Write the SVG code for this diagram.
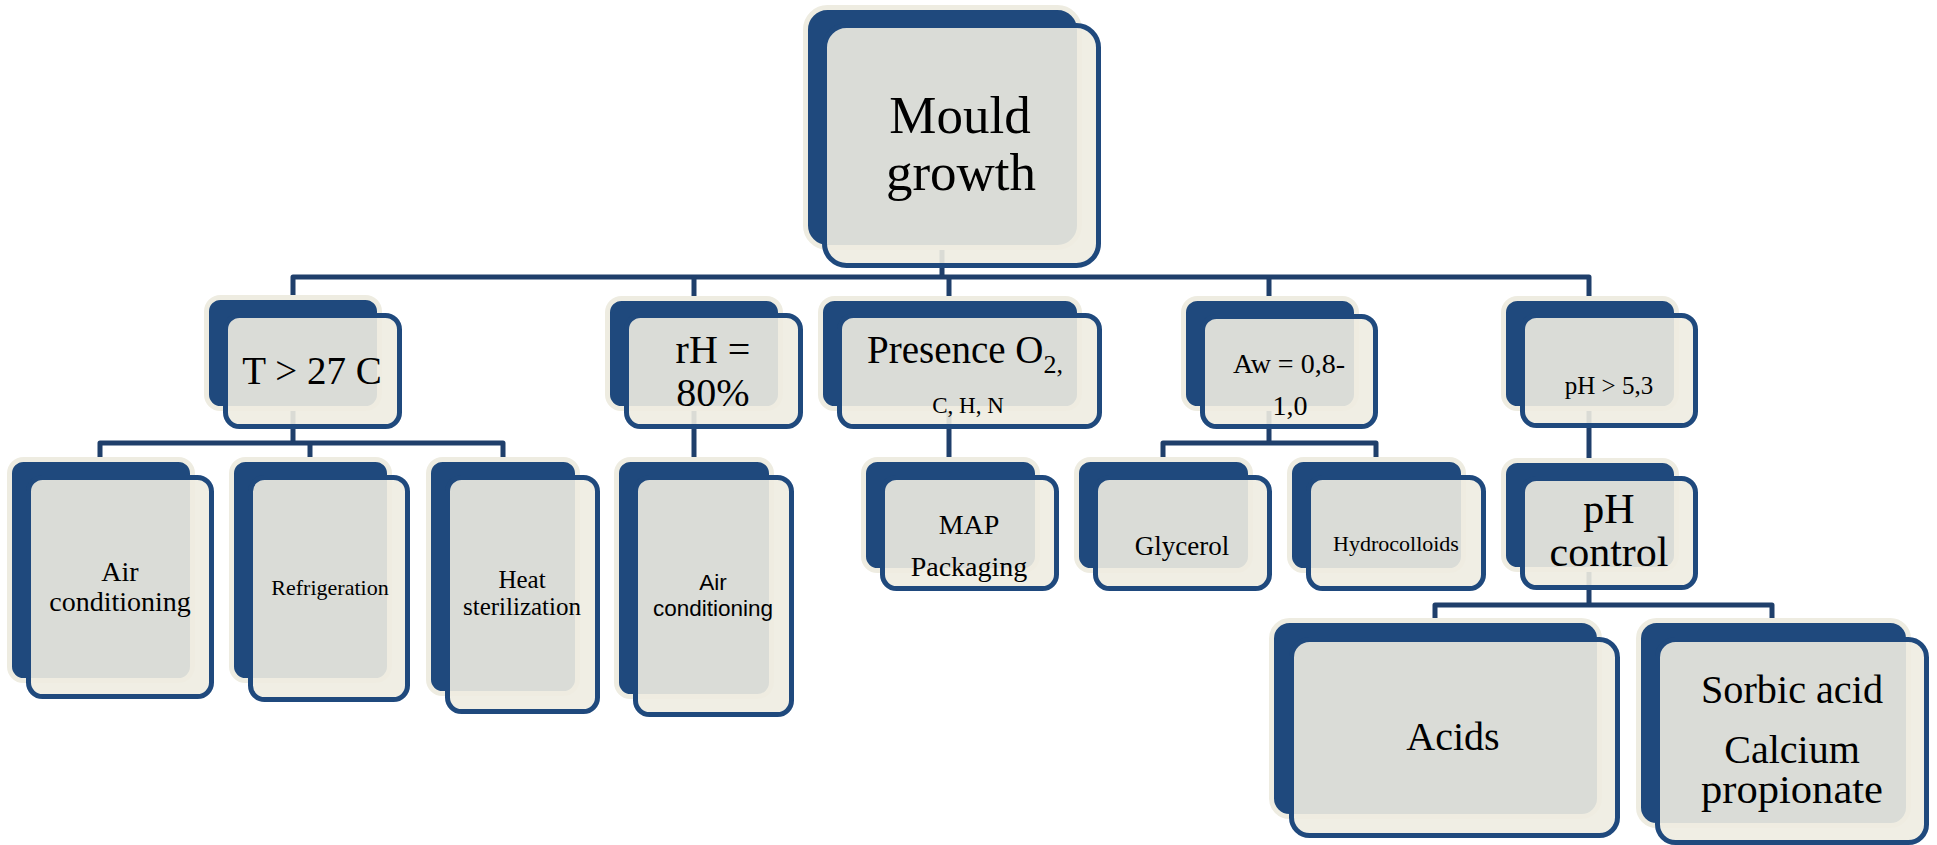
<svg xmlns="http://www.w3.org/2000/svg" width="1937" height="845" viewBox="0 0 1937 845">
<style>
.back{fill:#1F497D;stroke:#EEECE1;stroke-width:5}
.front{fill:#EEECE1;fill-opacity:0.9;stroke:#1F497D;stroke-width:5}
.conn{stroke:#1F3F6B;stroke-width:5;fill:none;stroke-linejoin:round}
.t{font-family:"Liberation Serif","Times New Roman",serif;fill:#000;text-anchor:middle}
.s{font-family:"Liberation Sans",Arial,sans-serif;fill:#000;text-anchor:middle}
</style>
<rect width="1937" height="845" fill="#FFFFFF"/>
<g id="connectors">
<path class="conn" d="M942,200 V277"/>
<path class="conn" d="M293,300 V277 H1589 V300"/>
<path class="conn" d="M694,277 V300"/>
<path class="conn" d="M949,277 V300"/>
<path class="conn" d="M1269,277 V300"/>
<path class="conn" d="M293,380 V443"/>
<path class="conn" d="M100,462 V443 H503 V462"/>
<path class="conn" d="M310,443 V462"/>
<path class="conn" d="M694,380 V462"/>
<path class="conn" d="M949,380 V462"/>
<path class="conn" d="M1269,380 V443"/>
<path class="conn" d="M1163,462 V443 H1376 V462"/>
<path class="conn" d="M1589,380 V463"/>
<path class="conn" d="M1589,540 V605"/>
<path class="conn" d="M1435,623 V605 H1772 V623"/>
</g>
<g id="node-mould">
<rect class="back" x="805.5" y="7.5" width="274" height="240" rx="22"/>
<rect class="front" x="824.5" y="25.5" width="274" height="240" rx="22"/>
<text class="t" font-size="53" x="960" y="133">Mould</text>
<text class="t" font-size="53" x="961" y="190">growth</text>
</g>
<g id="node-temp">
<rect class="back" x="206.5" y="297.5" width="173" height="111" rx="14"/>
<rect class="front" x="225.5" y="315.5" width="174" height="111" rx="14"/>
<text class="t" font-size="39" x="312" y="384">T &gt; 27 C</text>
</g>
<g id="node-rh">
<rect class="back" x="607.5" y="298.5" width="173" height="110" rx="14"/>
<rect class="front" x="626.5" y="315.5" width="174" height="111" rx="14"/>
<text class="t" font-size="40" x="713" y="363">rH =</text>
<text class="t" font-size="40" x="713" y="406">80%</text>
</g>
<g id="node-o2">
<rect class="back" x="820.5" y="298.5" width="259" height="110" rx="14"/>
<rect class="front" x="839.5" y="315.5" width="260" height="111" rx="14"/>
<text class="t" font-size="39" x="867" y="363" style="text-anchor:start">Presence O<tspan font-size="26" dy="10">2,</tspan></text>
<text class="t" font-size="23" x="968" y="413">C, H, N</text>
</g>
<g id="node-aw">
<rect class="back" x="1183.5" y="298.5" width="173" height="110" rx="14"/>
<rect class="front" x="1202.5" y="316.5" width="173" height="110" rx="14"/>
<text class="t" font-size="28" x="1289" y="373">Aw = 0,8-</text>
<text class="t" font-size="28" x="1290" y="415">1,0</text>
</g>
<g id="node-ph">
<rect class="back" x="1503.5" y="298.5" width="173" height="110" rx="14"/>
<rect class="front" x="1522.5" y="315.5" width="173" height="110" rx="14"/>
<text class="t" font-size="25" x="1609" y="394">pH &gt; 5,3</text>
</g>
<g id="node-air1">
<rect class="back" x="9.5" y="459.5" width="183" height="221" rx="14"/>
<rect class="front" x="28.5" y="477.5" width="183" height="219" rx="14"/>
<text class="t" font-size="28" x="120" y="581">Air</text>
<text class="t" font-size="28" x="120" y="611">conditioning</text>
</g>
<g id="node-refrig">
<rect class="back" x="231.5" y="459.5" width="158" height="221" rx="14"/>
<rect class="front" x="250.5" y="477.5" width="157" height="222" rx="14"/>
<text class="t" font-size="22" x="330" y="595">Refrigeration</text>
</g>
<g id="node-heat">
<rect class="back" x="428.5" y="459.5" width="149" height="234" rx="14"/>
<rect class="front" x="447.5" y="477.5" width="150" height="234" rx="14"/>
<text class="t" font-size="25" x="522" y="588">Heat</text>
<text class="t" font-size="25" x="522" y="615">sterilization</text>
</g>
<g id="node-air2">
<rect class="back" x="616.5" y="459.5" width="155" height="237" rx="14"/>
<rect class="front" x="635.5" y="477.5" width="156" height="237" rx="14"/>
<text class="s" font-size="22.5" x="713" y="590">Air</text>
<text class="s" font-size="22.5" x="713" y="616">conditioning</text>
</g>
<g id="node-map">
<rect class="back" x="863.5" y="459.5" width="174" height="111" rx="14"/>
<rect class="front" x="882.5" y="477.5" width="174" height="111" rx="14"/>
<text class="t" font-size="28" x="969" y="534">MAP</text>
<text class="t" font-size="28" x="969" y="576">Packaging</text>
</g>
<g id="node-glycerol">
<rect class="back" x="1076.5" y="459.5" width="174" height="111" rx="14"/>
<rect class="front" x="1095.5" y="477.5" width="174" height="111" rx="14"/>
<text class="t" font-size="27" x="1182" y="555">Glycerol</text>
</g>
<g id="node-hydro">
<rect class="back" x="1289.5" y="459.5" width="174" height="111" rx="14"/>
<rect class="front" x="1308.5" y="477.5" width="175" height="111" rx="14"/>
<text class="t" font-size="22" x="1396" y="551">Hydrocolloids</text>
</g>
<g id="node-phcontrol">
<rect class="back" x="1503.5" y="460.5" width="173" height="109" rx="14"/>
<rect class="front" x="1522.5" y="478.5" width="173" height="109" rx="14"/>
<text class="t" font-size="42" x="1609" y="523">pH</text>
<text class="t" font-size="42" x="1609" y="566">control</text>
</g>
<g id="node-acids">
<rect class="back" x="1271.5" y="620.5" width="328" height="196" rx="18"/>
<rect class="front" x="1291.5" y="639.5" width="326" height="196" rx="18"/>
<text class="t" font-size="40" x="1453" y="750">Acids</text>
</g>
<g id="node-sorbic">
<rect class="back" x="1638.5" y="620.5" width="270" height="205" rx="18"/>
<rect class="front" x="1657.5" y="639.5" width="269" height="203" rx="18"/>
<text class="t" font-size="40" x="1792" y="703" textLength="182" lengthAdjust="spacingAndGlyphs">Sorbic acid</text>
<text class="t" font-size="40" x="1792" y="763">Calcium</text>
<text class="t" font-size="40" x="1792" y="803" textLength="182" lengthAdjust="spacingAndGlyphs">propionate</text>
</g>
</svg>
